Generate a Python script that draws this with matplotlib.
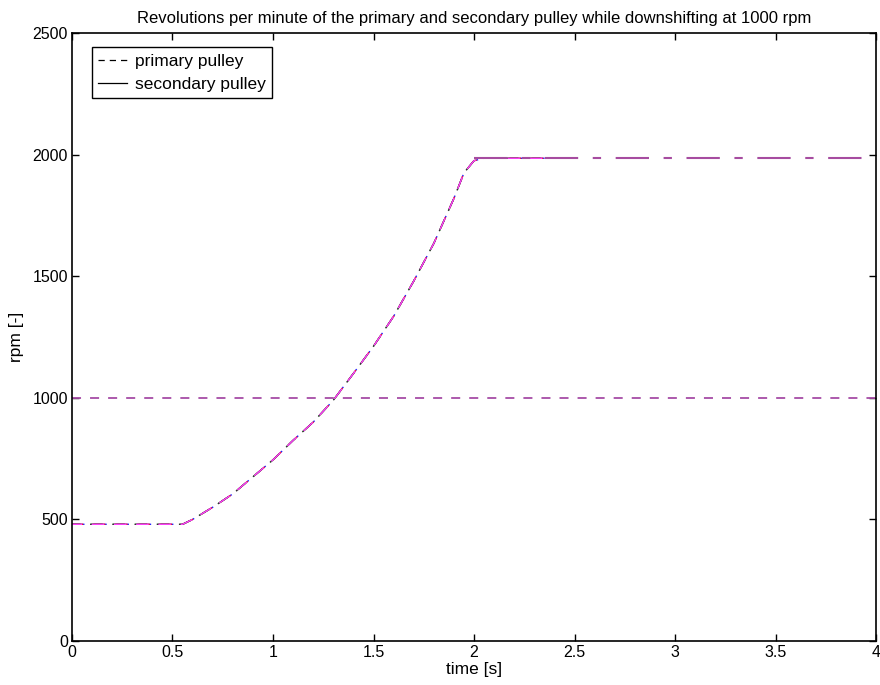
import matplotlib.pyplot as plt
from matplotlib.lines import Line2D

plt.rcParams['font.family'] = ['Liberation Sans', 'DejaVu Sans']

# data
t = [0.0, 0.55, 0.6, 0.7, 0.8, 0.9, 1.0, 1.1, 1.2, 1.3, 1.4,
     1.5, 1.6, 1.7, 1.8, 1.9, 1.95, 2.0, 2.05, 2.5]
rpm = [480, 480, 500, 550, 605, 675, 745, 825, 900, 990, 1100,
       1212, 1335, 1480, 1635, 1820, 1925, 1975, 1985, 1985]
t_flat = [2.0, 4.0]
rpm_flat = [1985, 1985]
rpm_ref = 1000

run_colors = ['#2020ff', '#20c020', '#ff2020', '#303030', '#ff40ff']
run_offsets = [0.0, 2.5, 1.0, 3.0, 1.8]
xticks = [0, 0.5, 1, 1.5, 2, 2.5, 3, 3.5, 4]
xticklabels = ['0', '0.5', '1', '1.5', '2', '2.5', '3', '3.5', '4']
yticks = [0, 500, 1000, 1500, 2000, 2500]

fig = plt.figure(figsize=(8.8, 6.85), dpi=100)
ax = fig.add_axes([0.0818, 0.0642, 0.9137, 0.8876])

# overlapping runs, staggered dashes so the colours mix
for c, off in zip(run_colors, run_offsets):
    ax.plot(t, rpm, color=c, linewidth=1.0, linestyle=(off, (9, 7)))

ax.axhline(rpm_ref, color='#a64ca6', linewidth=1.3, linestyle=(0, (5, 5)))
ax.plot(t_flat, rpm_flat, color='#a64ca0', linewidth=1.5,
        linestyle=(0, (16, 7, 4, 7)))

ax.set_xlim(0, 4)
ax.set_ylim(0, 2500)
ax.set_xticks(xticks)
ax.set_xticklabels(xticklabels)
ax.set_yticks(yticks)
ax.tick_params(direction='in', top=True, right=True, length=5,
               labelsize=11.5, width=1, pad=3)
for s in ax.spines.values():
    s.set_linewidth(1.2)

ax.set_xlabel('time [s]', fontsize=12.5, labelpad=1)
ax.set_ylabel('rpm [-]', fontsize=12.5, labelpad=6)
ax.set_title('Revolutions per minute of the primary and secondary pulley while downshifting at 1000 rpm',
             fontsize=12, pad=7)

handles = [Line2D([], [], color='k', linewidth=0.9, linestyle=(0, (5, 4))),
           Line2D([], [], color='k', linewidth=0.9)]
leg = ax.legend(handles, ['primary pulley', 'secondary pulley'],
                loc='upper left', bbox_to_anchor=(0.02, 0.982),
                fontsize=12.5, handlelength=1.7, handletextpad=0.45,
                borderpad=0.35, labelspacing=0.45, fancybox=False,
                framealpha=1, edgecolor='k', borderaxespad=0.2)
leg.get_frame().set_linewidth(1.0)

fig.savefig('out.png', dpi=100)
